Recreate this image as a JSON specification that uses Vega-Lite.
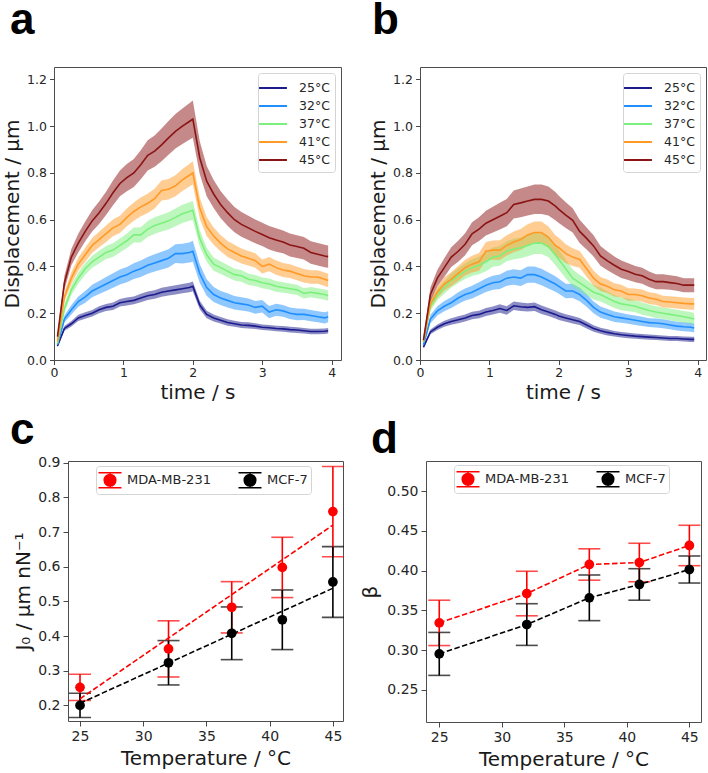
{
"$schema": "https://vega.github.io/schema/vega-lite/v6.json",
"background": "white",
"padding": {"left": 2, "top": -2, "right": 0, "bottom": 0},
"spacing": 5,
"resolve": {"scale": {"color": "independent"}, "legend": {"color": "independent"}},
"config": {
  "view": {"stroke": "#4d4d4d", "strokeWidth": 1},
  "font": "DejaVu Sans",
  "axis": {"domain": false, "grid": false, "ticks": true, "tickColor": "#333333", "tickWidth": 0.9, "labelFont": "DejaVu Sans", "labelColor": "#262626", "titleFont": "DejaVu Sans", "titleFontWeight": "normal", "titleColor": "#1a1a1a", "titleFontSize": 20, "labelFlush": false, "labelOverlap": false},
  "legend": {"labelFont": "DejaVu Sans", "labelColor": "#262626"}
},
"datasets": {
"a": [
{"T":"25°C","t":0.05,"m":0.06,"e":0.006},{"T":"25°C","t":0.15,"m":0.135,"e":0.01},{"T":"25°C","t":0.25,"m":0.155,"e":0.012},{"T":"25°C","t":0.35,"m":0.18,"e":0.013},{"T":"25°C","t":0.45,"m":0.19,"e":0.014},{"T":"25°C","t":0.55,"m":0.2,"e":0.014},{"T":"25°C","t":0.65,"m":0.215,"e":0.015},{"T":"25°C","t":0.75,"m":0.225,"e":0.015},{"T":"25°C","t":0.85,"m":0.23,"e":0.016},{"T":"25°C","t":0.95,"m":0.245,"e":0.016},{"T":"25°C","t":1.05,"m":0.25,"e":0.017},{"T":"25°C","t":1.15,"m":0.255,"e":0.017},{"T":"25°C","t":1.25,"m":0.265,"e":0.018},{"T":"25°C","t":1.35,"m":0.275,"e":0.018},{"T":"25°C","t":1.45,"m":0.28,"e":0.018},{"T":"25°C","t":1.55,"m":0.29,"e":0.019},{"T":"25°C","t":1.65,"m":0.295,"e":0.019},{"T":"25°C","t":1.75,"m":0.3,"e":0.02},{"T":"25°C","t":1.85,"m":0.305,"e":0.02},{"T":"25°C","t":1.95,"m":0.31,"e":0.02},{"T":"25°C","t":2.0,"m":0.315,"e":0.021},{"T":"25°C","t":2.1,"m":0.235,"e":0.018},{"T":"25°C","t":2.2,"m":0.195,"e":0.016},{"T":"25°C","t":2.3,"m":0.18,"e":0.015},{"T":"25°C","t":2.4,"m":0.17,"e":0.014},{"T":"25°C","t":2.5,"m":0.16,"e":0.014},{"T":"25°C","t":2.6,"m":0.155,"e":0.013},{"T":"25°C","t":2.7,"m":0.15,"e":0.013},{"T":"25°C","t":2.8,"m":0.148,"e":0.013},{"T":"25°C","t":2.9,"m":0.145,"e":0.012},{"T":"25°C","t":3.0,"m":0.14,"e":0.012},{"T":"25°C","t":3.1,"m":0.138,"e":0.012},{"T":"25°C","t":3.2,"m":0.135,"e":0.012},{"T":"25°C","t":3.3,"m":0.133,"e":0.012},{"T":"25°C","t":3.4,"m":0.13,"e":0.012},{"T":"25°C","t":3.5,"m":0.128,"e":0.012},{"T":"25°C","t":3.6,"m":0.125,"e":0.012},{"T":"25°C","t":3.7,"m":0.122,"e":0.012},{"T":"25°C","t":3.8,"m":0.122,"e":0.012},{"T":"25°C","t":3.9,"m":0.123,"e":0.012},{"T":"25°C","t":3.95,"m":0.125,"e":0.012},
{"T":"32°C","t":0.05,"m":0.065,"e":0.008},{"T":"32°C","t":0.15,"m":0.175,"e":0.015},{"T":"32°C","t":0.25,"m":0.215,"e":0.02},{"T":"32°C","t":0.35,"m":0.25,"e":0.022},{"T":"32°C","t":0.45,"m":0.27,"e":0.025},{"T":"32°C","t":0.55,"m":0.295,"e":0.027},{"T":"32°C","t":0.65,"m":0.31,"e":0.028},{"T":"32°C","t":0.75,"m":0.325,"e":0.03},{"T":"32°C","t":0.85,"m":0.34,"e":0.031},{"T":"32°C","t":0.95,"m":0.355,"e":0.032},{"T":"32°C","t":1.05,"m":0.365,"e":0.033},{"T":"32°C","t":1.15,"m":0.38,"e":0.034},{"T":"32°C","t":1.25,"m":0.39,"e":0.035},{"T":"32°C","t":1.35,"m":0.405,"e":0.036},{"T":"32°C","t":1.45,"m":0.415,"e":0.037},{"T":"32°C","t":1.55,"m":0.425,"e":0.038},{"T":"32°C","t":1.65,"m":0.435,"e":0.039},{"T":"32°C","t":1.75,"m":0.455,"e":0.04},{"T":"32°C","t":1.85,"m":0.455,"e":0.042},{"T":"32°C","t":1.95,"m":0.46,"e":0.043},{"T":"32°C","t":2.0,"m":0.465,"e":0.045},{"T":"32°C","t":2.1,"m":0.37,"e":0.04},{"T":"32°C","t":2.2,"m":0.31,"e":0.035},{"T":"32°C","t":2.3,"m":0.28,"e":0.032},{"T":"32°C","t":2.4,"m":0.265,"e":0.03},{"T":"32°C","t":2.5,"m":0.255,"e":0.03},{"T":"32°C","t":2.6,"m":0.245,"e":0.029},{"T":"32°C","t":2.7,"m":0.24,"e":0.028},{"T":"32°C","t":2.8,"m":0.235,"e":0.028},{"T":"32°C","t":2.9,"m":0.225,"e":0.027},{"T":"32°C","t":3.0,"m":0.23,"e":0.027},{"T":"32°C","t":3.1,"m":0.205,"e":0.026},{"T":"32°C","t":3.2,"m":0.215,"e":0.026},{"T":"32°C","t":3.3,"m":0.21,"e":0.025},{"T":"32°C","t":3.4,"m":0.2,"e":0.025},{"T":"32°C","t":3.5,"m":0.195,"e":0.025},{"T":"32°C","t":3.6,"m":0.195,"e":0.024},{"T":"32°C","t":3.7,"m":0.19,"e":0.024},{"T":"32°C","t":3.8,"m":0.185,"e":0.024},{"T":"32°C","t":3.9,"m":0.18,"e":0.024},{"T":"32°C","t":3.95,"m":0.185,"e":0.024},
{"T":"37°C","t":0.05,"m":0.07,"e":0.008},{"T":"37°C","t":0.15,"m":0.22,"e":0.018},{"T":"37°C","t":0.25,"m":0.3,"e":0.022},{"T":"37°C","t":0.35,"m":0.35,"e":0.024},{"T":"37°C","t":0.45,"m":0.39,"e":0.025},{"T":"37°C","t":0.55,"m":0.42,"e":0.026},{"T":"37°C","t":0.65,"m":0.44,"e":0.027},{"T":"37°C","t":0.75,"m":0.46,"e":0.028},{"T":"37°C","t":0.85,"m":0.47,"e":0.029},{"T":"37°C","t":0.95,"m":0.49,"e":0.03},{"T":"37°C","t":1.05,"m":0.51,"e":0.031},{"T":"37°C","t":1.15,"m":0.535,"e":0.032},{"T":"37°C","t":1.25,"m":0.535,"e":0.033},{"T":"37°C","t":1.35,"m":0.56,"e":0.034},{"T":"37°C","t":1.45,"m":0.575,"e":0.035},{"T":"37°C","t":1.55,"m":0.585,"e":0.036},{"T":"37°C","t":1.65,"m":0.595,"e":0.037},{"T":"37°C","t":1.75,"m":0.61,"e":0.038},{"T":"37°C","t":1.85,"m":0.625,"e":0.039},{"T":"37°C","t":1.95,"m":0.635,"e":0.04},{"T":"37°C","t":2.0,"m":0.64,"e":0.04},{"T":"37°C","t":2.1,"m":0.52,"e":0.035},{"T":"37°C","t":2.2,"m":0.45,"e":0.03},{"T":"37°C","t":2.3,"m":0.41,"e":0.028},{"T":"37°C","t":2.4,"m":0.395,"e":0.027},{"T":"37°C","t":2.5,"m":0.38,"e":0.026},{"T":"37°C","t":2.6,"m":0.365,"e":0.025},{"T":"37°C","t":2.7,"m":0.36,"e":0.025},{"T":"37°C","t":2.8,"m":0.345,"e":0.024},{"T":"37°C","t":2.9,"m":0.34,"e":0.024},{"T":"37°C","t":3.0,"m":0.33,"e":0.023},{"T":"37°C","t":3.1,"m":0.325,"e":0.023},{"T":"37°C","t":3.2,"m":0.315,"e":0.023},{"T":"37°C","t":3.3,"m":0.31,"e":0.022},{"T":"37°C","t":3.4,"m":0.305,"e":0.022},{"T":"37°C","t":3.5,"m":0.3,"e":0.022},{"T":"37°C","t":3.6,"m":0.285,"e":0.022},{"T":"37°C","t":3.7,"m":0.29,"e":0.022},{"T":"37°C","t":3.8,"m":0.285,"e":0.022},{"T":"37°C","t":3.9,"m":0.28,"e":0.022},{"T":"37°C","t":3.95,"m":0.275,"e":0.022},
{"T":"41°C","t":0.05,"m":0.08,"e":0.01},{"T":"41°C","t":0.15,"m":0.27,"e":0.02},{"T":"41°C","t":0.25,"m":0.35,"e":0.025},{"T":"41°C","t":0.35,"m":0.41,"e":0.028},{"T":"41°C","t":0.45,"m":0.45,"e":0.03},{"T":"41°C","t":0.55,"m":0.49,"e":0.032},{"T":"41°C","t":0.65,"m":0.515,"e":0.033},{"T":"41°C","t":0.75,"m":0.54,"e":0.035},{"T":"41°C","t":0.85,"m":0.565,"e":0.036},{"T":"41°C","t":0.95,"m":0.58,"e":0.037},{"T":"41°C","t":1.05,"m":0.61,"e":0.038},{"T":"41°C","t":1.15,"m":0.635,"e":0.039},{"T":"41°C","t":1.25,"m":0.655,"e":0.04},{"T":"41°C","t":1.35,"m":0.67,"e":0.041},{"T":"41°C","t":1.45,"m":0.69,"e":0.042},{"T":"41°C","t":1.55,"m":0.725,"e":0.043},{"T":"41°C","t":1.65,"m":0.73,"e":0.044},{"T":"41°C","t":1.75,"m":0.745,"e":0.045},{"T":"41°C","t":1.85,"m":0.77,"e":0.047},{"T":"41°C","t":1.95,"m":0.79,"e":0.048},{"T":"41°C","t":2.0,"m":0.8,"e":0.05},{"T":"41°C","t":2.1,"m":0.65,"e":0.045},{"T":"41°C","t":2.2,"m":0.57,"e":0.04},{"T":"41°C","t":2.3,"m":0.53,"e":0.037},{"T":"41°C","t":2.4,"m":0.5,"e":0.035},{"T":"41°C","t":2.5,"m":0.475,"e":0.034},{"T":"41°C","t":2.6,"m":0.46,"e":0.033},{"T":"41°C","t":2.7,"m":0.445,"e":0.032},{"T":"41°C","t":2.8,"m":0.435,"e":0.031},{"T":"41°C","t":2.9,"m":0.425,"e":0.031},{"T":"41°C","t":3.0,"m":0.4,"e":0.03},{"T":"41°C","t":3.1,"m":0.41,"e":0.03},{"T":"41°C","t":3.2,"m":0.395,"e":0.03},{"T":"41°C","t":3.3,"m":0.385,"e":0.03},{"T":"41°C","t":3.4,"m":0.38,"e":0.029},{"T":"41°C","t":3.5,"m":0.37,"e":0.029},{"T":"41°C","t":3.6,"m":0.36,"e":0.029},{"T":"41°C","t":3.7,"m":0.355,"e":0.029},{"T":"41°C","t":3.8,"m":0.355,"e":0.029},{"T":"41°C","t":3.9,"m":0.345,"e":0.029},{"T":"41°C","t":3.95,"m":0.34,"e":0.029},
{"T":"45°C","t":0.05,"m":0.1,"e":0.01},{"T":"45°C","t":0.15,"m":0.33,"e":0.03},{"T":"45°C","t":0.25,"m":0.44,"e":0.035},{"T":"45°C","t":0.35,"m":0.5,"e":0.04},{"T":"45°C","t":0.45,"m":0.55,"e":0.042},{"T":"45°C","t":0.55,"m":0.595,"e":0.045},{"T":"45°C","t":0.65,"m":0.63,"e":0.048},{"T":"45°C","t":0.75,"m":0.67,"e":0.05},{"T":"45°C","t":0.85,"m":0.715,"e":0.053},{"T":"45°C","t":0.95,"m":0.755,"e":0.055},{"T":"45°C","t":1.05,"m":0.78,"e":0.058},{"T":"45°C","t":1.15,"m":0.8,"e":0.06},{"T":"45°C","t":1.25,"m":0.835,"e":0.062},{"T":"45°C","t":1.35,"m":0.875,"e":0.065},{"T":"45°C","t":1.45,"m":0.893,"e":0.067},{"T":"45°C","t":1.55,"m":0.92,"e":0.07},{"T":"45°C","t":1.65,"m":0.95,"e":0.072},{"T":"45°C","t":1.75,"m":0.978,"e":0.074},{"T":"45°C","t":1.85,"m":1.0,"e":0.076},{"T":"45°C","t":1.95,"m":1.02,"e":0.078},{"T":"45°C","t":2.0,"m":1.03,"e":0.08},{"T":"45°C","t":2.1,"m":0.865,"e":0.07},{"T":"45°C","t":2.2,"m":0.765,"e":0.065},{"T":"45°C","t":2.3,"m":0.71,"e":0.06},{"T":"45°C","t":2.4,"m":0.665,"e":0.058},{"T":"45°C","t":2.5,"m":0.63,"e":0.056},{"T":"45°C","t":2.6,"m":0.6,"e":0.054},{"T":"45°C","t":2.7,"m":0.58,"e":0.053},{"T":"45°C","t":2.8,"m":0.565,"e":0.052},{"T":"45°C","t":2.9,"m":0.55,"e":0.051},{"T":"45°C","t":3.0,"m":0.537,"e":0.05},{"T":"45°C","t":3.1,"m":0.523,"e":0.05},{"T":"45°C","t":3.2,"m":0.513,"e":0.05},{"T":"45°C","t":3.3,"m":0.505,"e":0.049},{"T":"45°C","t":3.4,"m":0.492,"e":0.049},{"T":"45°C","t":3.5,"m":0.485,"e":0.049},{"T":"45°C","t":3.6,"m":0.478,"e":0.048},{"T":"45°C","t":3.7,"m":0.46,"e":0.048},{"T":"45°C","t":3.8,"m":0.452,"e":0.048},{"T":"45°C","t":3.9,"m":0.445,"e":0.048},{"T":"45°C","t":3.95,"m":0.442,"e":0.048}
],
"b": [
{"T":"25°C","t":0.05,"m":0.055,"e":0.006},{"T":"25°C","t":0.15,"m":0.12,"e":0.01},{"T":"25°C","t":0.25,"m":0.14,"e":0.012},{"T":"25°C","t":0.35,"m":0.155,"e":0.013},{"T":"25°C","t":0.45,"m":0.165,"e":0.014},{"T":"25°C","t":0.55,"m":0.172,"e":0.015},{"T":"25°C","t":0.65,"m":0.18,"e":0.015},{"T":"25°C","t":0.75,"m":0.19,"e":0.016},{"T":"25°C","t":0.85,"m":0.195,"e":0.016},{"T":"25°C","t":0.95,"m":0.205,"e":0.017},{"T":"25°C","t":1.05,"m":0.212,"e":0.017},{"T":"25°C","t":1.15,"m":0.22,"e":0.018},{"T":"25°C","t":1.25,"m":0.212,"e":0.018},{"T":"25°C","t":1.35,"m":0.232,"e":0.018},{"T":"25°C","t":1.45,"m":0.228,"e":0.018},{"T":"25°C","t":1.55,"m":0.225,"e":0.018},{"T":"25°C","t":1.65,"m":0.228,"e":0.018},{"T":"25°C","t":1.75,"m":0.215,"e":0.018},{"T":"25°C","t":1.85,"m":0.205,"e":0.017},{"T":"25°C","t":1.95,"m":0.195,"e":0.017},{"T":"25°C","t":2.0,"m":0.188,"e":0.017},{"T":"25°C","t":2.1,"m":0.18,"e":0.016},{"T":"25°C","t":2.2,"m":0.172,"e":0.016},{"T":"25°C","t":2.3,"m":0.165,"e":0.015},{"T":"25°C","t":2.4,"m":0.15,"e":0.015},{"T":"25°C","t":2.5,"m":0.135,"e":0.014},{"T":"25°C","t":2.6,"m":0.125,"e":0.013},{"T":"25°C","t":2.7,"m":0.118,"e":0.013},{"T":"25°C","t":2.8,"m":0.112,"e":0.012},{"T":"25°C","t":2.9,"m":0.108,"e":0.012},{"T":"25°C","t":3.0,"m":0.105,"e":0.012},{"T":"25°C","t":3.1,"m":0.102,"e":0.011},{"T":"25°C","t":3.2,"m":0.1,"e":0.011},{"T":"25°C","t":3.3,"m":0.098,"e":0.011},{"T":"25°C","t":3.4,"m":0.096,"e":0.011},{"T":"25°C","t":3.5,"m":0.094,"e":0.011},{"T":"25°C","t":3.6,"m":0.092,"e":0.011},{"T":"25°C","t":3.7,"m":0.092,"e":0.011},{"T":"25°C","t":3.8,"m":0.09,"e":0.011},{"T":"25°C","t":3.9,"m":0.088,"e":0.011},{"T":"25°C","t":3.95,"m":0.088,"e":0.011},
{"T":"32°C","t":0.05,"m":0.065,"e":0.008},{"T":"32°C","t":0.15,"m":0.175,"e":0.018},{"T":"32°C","t":0.25,"m":0.21,"e":0.02},{"T":"32°C","t":0.35,"m":0.23,"e":0.022},{"T":"32°C","t":0.45,"m":0.245,"e":0.023},{"T":"32°C","t":0.55,"m":0.265,"e":0.025},{"T":"32°C","t":0.65,"m":0.28,"e":0.026},{"T":"32°C","t":0.75,"m":0.29,"e":0.027},{"T":"32°C","t":0.85,"m":0.305,"e":0.028},{"T":"32°C","t":0.95,"m":0.32,"e":0.029},{"T":"32°C","t":1.05,"m":0.33,"e":0.03},{"T":"32°C","t":1.15,"m":0.335,"e":0.031},{"T":"32°C","t":1.25,"m":0.35,"e":0.032},{"T":"32°C","t":1.35,"m":0.355,"e":0.033},{"T":"32°C","t":1.45,"m":0.35,"e":0.034},{"T":"32°C","t":1.55,"m":0.365,"e":0.035},{"T":"32°C","t":1.65,"m":0.365,"e":0.035},{"T":"32°C","t":1.75,"m":0.355,"e":0.035},{"T":"32°C","t":1.85,"m":0.34,"e":0.034},{"T":"32°C","t":1.95,"m":0.325,"e":0.033},{"T":"32°C","t":2.0,"m":0.315,"e":0.032},{"T":"32°C","t":2.1,"m":0.295,"e":0.031},{"T":"32°C","t":2.2,"m":0.295,"e":0.03},{"T":"32°C","t":2.3,"m":0.28,"e":0.029},{"T":"32°C","t":2.4,"m":0.255,"e":0.027},{"T":"32°C","t":2.5,"m":0.225,"e":0.025},{"T":"32°C","t":2.6,"m":0.205,"e":0.024},{"T":"32°C","t":2.7,"m":0.195,"e":0.023},{"T":"32°C","t":2.8,"m":0.185,"e":0.022},{"T":"32°C","t":2.9,"m":0.18,"e":0.021},{"T":"32°C","t":3.0,"m":0.175,"e":0.02},{"T":"32°C","t":3.1,"m":0.17,"e":0.02},{"T":"32°C","t":3.2,"m":0.165,"e":0.02},{"T":"32°C","t":3.3,"m":0.16,"e":0.019},{"T":"32°C","t":3.4,"m":0.158,"e":0.019},{"T":"32°C","t":3.5,"m":0.155,"e":0.019},{"T":"32°C","t":3.6,"m":0.15,"e":0.019},{"T":"32°C","t":3.7,"m":0.145,"e":0.019},{"T":"32°C","t":3.8,"m":0.142,"e":0.019},{"T":"32°C","t":3.9,"m":0.14,"e":0.019},{"T":"32°C","t":3.95,"m":0.137,"e":0.019},
{"T":"37°C","t":0.05,"m":0.075,"e":0.01},{"T":"37°C","t":0.15,"m":0.23,"e":0.02},{"T":"37°C","t":0.25,"m":0.28,"e":0.025},{"T":"37°C","t":0.35,"m":0.31,"e":0.027},{"T":"37°C","t":0.45,"m":0.34,"e":0.03},{"T":"37°C","t":0.55,"m":0.36,"e":0.032},{"T":"37°C","t":0.65,"m":0.38,"e":0.034},{"T":"37°C","t":0.75,"m":0.395,"e":0.036},{"T":"37°C","t":0.85,"m":0.405,"e":0.038},{"T":"37°C","t":0.95,"m":0.42,"e":0.04},{"T":"37°C","t":1.05,"m":0.44,"e":0.041},{"T":"37°C","t":1.15,"m":0.445,"e":0.042},{"T":"37°C","t":1.25,"m":0.465,"e":0.043},{"T":"37°C","t":1.35,"m":0.475,"e":0.044},{"T":"37°C","t":1.45,"m":0.48,"e":0.045},{"T":"37°C","t":1.55,"m":0.49,"e":0.046},{"T":"37°C","t":1.65,"m":0.5,"e":0.047},{"T":"37°C","t":1.75,"m":0.5,"e":0.047},{"T":"37°C","t":1.85,"m":0.485,"e":0.046},{"T":"37°C","t":1.95,"m":0.45,"e":0.044},{"T":"37°C","t":2.0,"m":0.43,"e":0.043},{"T":"37°C","t":2.1,"m":0.39,"e":0.04},{"T":"37°C","t":2.2,"m":0.35,"e":0.037},{"T":"37°C","t":2.3,"m":0.33,"e":0.035},{"T":"37°C","t":2.4,"m":0.31,"e":0.033},{"T":"37°C","t":2.5,"m":0.29,"e":0.031},{"T":"37°C","t":2.6,"m":0.28,"e":0.03},{"T":"37°C","t":2.7,"m":0.265,"e":0.029},{"T":"37°C","t":2.8,"m":0.25,"e":0.028},{"T":"37°C","t":2.9,"m":0.24,"e":0.027},{"T":"37°C","t":3.0,"m":0.235,"e":0.027},{"T":"37°C","t":3.1,"m":0.23,"e":0.026},{"T":"37°C","t":3.2,"m":0.22,"e":0.026},{"T":"37°C","t":3.3,"m":0.212,"e":0.025},{"T":"37°C","t":3.4,"m":0.205,"e":0.025},{"T":"37°C","t":3.5,"m":0.2,"e":0.025},{"T":"37°C","t":3.6,"m":0.195,"e":0.025},{"T":"37°C","t":3.7,"m":0.19,"e":0.025},{"T":"37°C","t":3.8,"m":0.185,"e":0.025},{"T":"37°C","t":3.9,"m":0.18,"e":0.025},{"T":"37°C","t":3.95,"m":0.175,"e":0.025},
{"T":"41°C","t":0.05,"m":0.08,"e":0.01},{"T":"41°C","t":0.15,"m":0.24,"e":0.02},{"T":"41°C","t":0.25,"m":0.29,"e":0.025},{"T":"41°C","t":0.35,"m":0.325,"e":0.028},{"T":"41°C","t":0.45,"m":0.345,"e":0.03},{"T":"41°C","t":0.55,"m":0.37,"e":0.032},{"T":"41°C","t":0.65,"m":0.395,"e":0.034},{"T":"41°C","t":0.75,"m":0.41,"e":0.036},{"T":"41°C","t":0.85,"m":0.42,"e":0.038},{"T":"41°C","t":0.95,"m":0.465,"e":0.04},{"T":"41°C","t":1.05,"m":0.47,"e":0.041},{"T":"41°C","t":1.15,"m":0.47,"e":0.042},{"T":"41°C","t":1.25,"m":0.49,"e":0.043},{"T":"41°C","t":1.35,"m":0.505,"e":0.044},{"T":"41°C","t":1.45,"m":0.515,"e":0.045},{"T":"41°C","t":1.55,"m":0.535,"e":0.046},{"T":"41°C","t":1.65,"m":0.545,"e":0.047},{"T":"41°C","t":1.75,"m":0.545,"e":0.047},{"T":"41°C","t":1.85,"m":0.525,"e":0.046},{"T":"41°C","t":1.95,"m":0.49,"e":0.044},{"T":"41°C","t":2.0,"m":0.48,"e":0.043},{"T":"41°C","t":2.1,"m":0.455,"e":0.04},{"T":"41°C","t":2.2,"m":0.44,"e":0.038},{"T":"41°C","t":2.3,"m":0.43,"e":0.036},{"T":"41°C","t":2.4,"m":0.39,"e":0.034},{"T":"41°C","t":2.5,"m":0.35,"e":0.032},{"T":"41°C","t":2.6,"m":0.325,"e":0.03},{"T":"41°C","t":2.7,"m":0.315,"e":0.029},{"T":"41°C","t":2.8,"m":0.3,"e":0.028},{"T":"41°C","t":2.9,"m":0.295,"e":0.027},{"T":"41°C","t":3.0,"m":0.28,"e":0.027},{"T":"41°C","t":3.1,"m":0.28,"e":0.026},{"T":"41°C","t":3.2,"m":0.275,"e":0.026},{"T":"41°C","t":3.3,"m":0.265,"e":0.025},{"T":"41°C","t":3.4,"m":0.26,"e":0.025},{"T":"41°C","t":3.5,"m":0.25,"e":0.025},{"T":"41°C","t":3.6,"m":0.248,"e":0.025},{"T":"41°C","t":3.7,"m":0.245,"e":0.025},{"T":"41°C","t":3.8,"m":0.242,"e":0.025},{"T":"41°C","t":3.9,"m":0.24,"e":0.025},{"T":"41°C","t":3.95,"m":0.24,"e":0.025},
{"T":"45°C","t":0.05,"m":0.085,"e":0.01},{"T":"45°C","t":0.15,"m":0.28,"e":0.03},{"T":"45°C","t":0.25,"m":0.35,"e":0.035},{"T":"45°C","t":0.35,"m":0.395,"e":0.04},{"T":"45°C","t":0.45,"m":0.44,"e":0.042},{"T":"45°C","t":0.55,"m":0.465,"e":0.045},{"T":"45°C","t":0.65,"m":0.495,"e":0.047},{"T":"45°C","t":0.75,"m":0.54,"e":0.049},{"T":"45°C","t":0.85,"m":0.56,"e":0.051},{"T":"45°C","t":0.95,"m":0.585,"e":0.053},{"T":"45°C","t":1.05,"m":0.6,"e":0.055},{"T":"45°C","t":1.15,"m":0.615,"e":0.057},{"T":"45°C","t":1.25,"m":0.63,"e":0.058},{"T":"45°C","t":1.35,"m":0.665,"e":0.06},{"T":"45°C","t":1.45,"m":0.672,"e":0.061},{"T":"45°C","t":1.55,"m":0.68,"e":0.062},{"T":"45°C","t":1.65,"m":0.687,"e":0.063},{"T":"45°C","t":1.75,"m":0.687,"e":0.063},{"T":"45°C","t":1.85,"m":0.68,"e":0.062},{"T":"45°C","t":1.95,"m":0.658,"e":0.06},{"T":"45°C","t":2.0,"m":0.644,"e":0.058},{"T":"45°C","t":2.1,"m":0.62,"e":0.055},{"T":"45°C","t":2.2,"m":0.597,"e":0.052},{"T":"45°C","t":2.3,"m":0.55,"e":0.05},{"T":"45°C","t":2.4,"m":0.52,"e":0.047},{"T":"45°C","t":2.5,"m":0.488,"e":0.045},{"T":"45°C","t":2.6,"m":0.445,"e":0.042},{"T":"45°C","t":2.7,"m":0.424,"e":0.04},{"T":"45°C","t":2.8,"m":0.405,"e":0.038},{"T":"45°C","t":2.9,"m":0.388,"e":0.037},{"T":"45°C","t":3.0,"m":0.378,"e":0.036},{"T":"45°C","t":3.1,"m":0.367,"e":0.035},{"T":"45°C","t":3.2,"m":0.36,"e":0.034},{"T":"45°C","t":3.3,"m":0.345,"e":0.033},{"T":"45°C","t":3.4,"m":0.335,"e":0.032},{"T":"45°C","t":3.5,"m":0.335,"e":0.032},{"T":"45°C","t":3.6,"m":0.331,"e":0.031},{"T":"45°C","t":3.7,"m":0.327,"e":0.031},{"T":"45°C","t":3.8,"m":0.32,"e":0.03},{"T":"45°C","t":3.9,"m":0.32,"e":0.03},{"T":"45°C","t":3.95,"m":0.32,"e":0.03}
],
"c": [
{"cell":"MDA-MB-231","temp":25,"m":0.252,"e":0.038},{"cell":"MDA-MB-231","temp":32,"m":0.363,"e":0.081},{"cell":"MDA-MB-231","temp":37,"m":0.483,"e":0.074},{"cell":"MDA-MB-231","temp":41,"m":0.598,"e":0.087},{"cell":"MDA-MB-231","temp":45,"m":0.759,"e":0.13},
{"cell":"MCF-7","temp":25,"m":0.2,"e":0.035},{"cell":"MCF-7","temp":32,"m":0.323,"e":0.064},{"cell":"MCF-7","temp":37,"m":0.408,"e":0.076},{"cell":"MCF-7","temp":41,"m":0.447,"e":0.086},{"cell":"MCF-7","temp":45,"m":0.556,"e":0.102}
],
"cfit": [
{"cell":"MDA-MB-231","temp":25,"m":0.219},{"cell":"MDA-MB-231","temp":45,"m":0.72},
{"cell":"MCF-7","temp":25,"m":0.206},{"cell":"MCF-7","temp":45,"m":0.538}
],
"d": [
{"cell":"MDA-MB-231","temp":25,"m":0.3343,"e":0.0285},{"cell":"MDA-MB-231","temp":32,"m":0.3712,"e":0.028},{"cell":"MDA-MB-231","temp":37,"m":0.4077,"e":0.0197},{"cell":"MDA-MB-231","temp":41,"m":0.4102,"e":0.0242},{"cell":"MDA-MB-231","temp":45,"m":0.4316,"e":0.0254},
{"cell":"MCF-7","temp":25,"m":0.2953,"e":0.027},{"cell":"MCF-7","temp":32,"m":0.3322,"e":0.0262},{"cell":"MCF-7","temp":37,"m":0.3658,"e":0.0287},{"cell":"MCF-7","temp":41,"m":0.3826,"e":0.0198},{"cell":"MCF-7","temp":45,"m":0.4014,"e":0.017}
]
},
"vconcat": [
{
"hconcat": [
{
"width": 287, "height": 293,
"data": {"name": "a"},
"title": {"text": "a", "anchor": "start", "frame": "group", "fontSize": 44, "font": "Liberation Sans", "fontWeight": "bold", "color": "#000000", "dx": -44, "offset": -11, "baseline": "alphabetic"},
"encoding": {
  "x": {"field": "t", "type": "quantitative", "scale": {"domain": [0, 4.135], "nice": false, "zero": false}, "axis": {"values": [0,1,2,3,4], "format": "d", "title": "time / s", "labelFontSize": 12.5, "tickSize": 4.5, "labelPadding": 2, "titlePadding": 3}},
  "y": {"field": "m", "type": "quantitative", "scale": {"domain": [0, 1.253], "nice": false, "zero": false}, "axis": {"values": [0,0.2,0.4,0.6,0.8,1.0,1.2], "format": ".1f", "title": "Displacement / µm", "labelFontSize": 12.5, "tickSize": 4.5, "labelPadding": 3, "titlePadding": 4}},
  "color": {"field": "T", "type": "nominal", "scale": {"domain": ["25°C","32°C","37°C","41°C","45°C"], "range": ["#1c1c8e","#1f8fff","#7cf07c","#ff9a26","#8b1414"]}}
},
"layer": [
  {"mark": {"type": "errorband", "opacity": 0.5, "band": {"opacity": 0.5}}, "encoding": {"yError": {"field": "e"}}},
  {"mark": {"type": "line", "strokeWidth": 1.6}, "encoding": {"color": {"field": "T", "type": "nominal", "scale": {"domain": ["25°C","32°C","37°C","41°C","45°C"], "range": ["#1c1c8e","#1f8fff","#7cf07c","#ff9a26","#8b1414"]}, "legend": {"orient": "top-right", "offset": 6, "title": null, "symbolType": "M-1.55,0H1.55", "symbolSize": 324, "labelFontSize": 12.5, "labelOffset": 16, "padding": 5, "rowPadding": 1, "fillColor": "white", "strokeColor": "#d4d4d4", "cornerRadius": 3, "encode": {"symbols": {"update": {"fill": {"value": "transparent"}, "stroke": {"signal": "datum.value === '25°C' ? '#1c1c8e' : datum.value === '32°C' ? '#1f8fff' : datum.value === '37°C' ? '#7cf07c' : datum.value === '41°C' ? '#ff9a26' : '#8b1414'"}, "strokeWidth": {"value": 2}, "opacity": {"value": 1}, "strokeOpacity": {"value": 1}}}}}}}}
]
},
{
"width": 286, "height": 293,
"data": {"name": "b"},
"title": {"text": "b", "anchor": "start", "frame": "group", "fontSize": 44, "font": "Liberation Sans", "fontWeight": "bold", "color": "#000000", "dx": -48, "offset": -11, "baseline": "alphabetic"},
"encoding": {
  "x": {"field": "t", "type": "quantitative", "scale": {"domain": [0, 4.12], "nice": false, "zero": false}, "axis": {"values": [0,1,2,3,4], "format": "d", "title": "time / s", "labelFontSize": 12.5, "tickSize": 4.5, "labelPadding": 2, "titlePadding": 3}},
  "y": {"field": "m", "type": "quantitative", "scale": {"domain": [0, 1.253], "nice": false, "zero": false}, "axis": {"values": [0,0.2,0.4,0.6,0.8,1.0,1.2], "format": ".1f", "title": "Displacement / µm", "labelFontSize": 12.5, "tickSize": 4.5, "labelPadding": 3, "titlePadding": 4}},
  "color": {"field": "T", "type": "nominal", "scale": {"domain": ["25°C","32°C","37°C","41°C","45°C"], "range": ["#1c1c8e","#1f8fff","#7cf07c","#ff9a26","#8b1414"]}}
},
"layer": [
  {"mark": {"type": "errorband", "opacity": 0.5, "band": {"opacity": 0.5}}, "encoding": {"yError": {"field": "e"}}},
  {"mark": {"type": "line", "strokeWidth": 1.6}, "encoding": {"color": {"field": "T", "type": "nominal", "scale": {"domain": ["25°C","32°C","37°C","41°C","45°C"], "range": ["#1c1c8e","#1f8fff","#7cf07c","#ff9a26","#8b1414"]}, "legend": {"orient": "top-right", "offset": 6, "title": null, "symbolType": "M-1.55,0H1.55", "symbolSize": 324, "labelFontSize": 12.5, "labelOffset": 16, "padding": 5, "rowPadding": 1, "fillColor": "white", "strokeColor": "#d4d4d4", "cornerRadius": 3, "encode": {"symbols": {"update": {"fill": {"value": "transparent"}, "stroke": {"signal": "datum.value === '25°C' ? '#1c1c8e' : datum.value === '32°C' ? '#1f8fff' : datum.value === '37°C' ? '#7cf07c' : datum.value === '41°C' ? '#ff9a26' : '#8b1414'"}, "strokeWidth": {"value": 2}, "opacity": {"value": 1}, "strokeOpacity": {"value": 1}}}}}}}}
]
}
],
"spacing": 79,
"bounds": "flush",
"resolve": {"scale": {"color": "independent"}, "legend": {"color": "independent"}}
},
{
"hconcat": [
{
"width": 14, "height": 10,
"data": {"values": [{"k": 1}]},
"view": {"stroke": null},
"mark": {"type": "point", "opacity": 0},
"encoding": {}
},
{
"hconcat": [
{
"width": 275, "height": 260,
"title": {"text": "c", "anchor": "start", "frame": "group", "fontSize": 44, "font": "Liberation Sans", "fontWeight": "bold", "color": "#000000", "dx": -58, "offset": -32, "baseline": "alphabetic"},
"encoding": {
  "x": {"field": "temp", "type": "quantitative", "scale": {"domain": [24.05, 45.8], "nice": false, "zero": false}, "axis": {"values": [25,30,35,40,45], "title": "Temperature / °C", "labelFontSize": 14, "tickSize": 5, "labelPadding": 3, "titlePadding": 5}},
  "y": {"field": "m", "type": "quantitative", "scale": {"domain": [0.155, 0.905], "nice": false, "zero": false}, "axis": {"values": [0.2,0.3,0.4,0.5,0.6,0.7,0.8,0.9], "format": ".1f", "title": "J₀ / µm nN⁻¹", "labelFontSize": 14, "tickSize": 5, "labelPadding": 3, "titlePadding": 4}},
  "color": {"field": "cell", "type": "nominal", "scale": {"domain": ["MDA-MB-231","MCF-7"], "range": ["#ff0000","#000000"]}}
},
"layer": [
  {"data": {"name": "c"}, "mark": {"type": "errorbar", "ticks": {"size": 22, "thickness": 1.6}, "thickness": 1.6}, "encoding": {"yError": {"field": "e"}}},
  {"data": {"name": "c"}, "mark": {"type": "point", "filled": true, "size": 95, "opacity": 1}, "encoding": {"color": {"field": "cell", "type": "nominal", "scale": {"domain": ["MDA-MB-231","MCF-7"], "range": ["#ff0000","#000000"]}, "legend": {"orient": "none", "legendX": 28, "legendY": 5, "direction": "horizontal", "columns": 2, "title": null, "symbolType": "M-1.15,-0.75H1.15M-1.15,0.75H1.15M0,-0.75V0.75M0.58,0A0.58,0.58,0,1,1,-0.58,0A0.58,0.58,0,1,1,0.58,0Z", "symbolSize": 400, "labelFontSize": 13, "labelOffset": 6, "columnPadding": 24, "padding": 3, "fillColor": "white", "strokeColor": "#d4d4d4", "cornerRadius": 3, "symbolOpacity": 1, "encode": {"symbols": {"update": {"fill": {"signal": "datum.value === 'MCF-7' ? '#000000' : '#ff0000'"}, "stroke": {"signal": "datum.value === 'MCF-7' ? '#000000' : '#ff0000'"}, "strokeWidth": {"value": 1.5}, "opacity": {"value": 1}, "fillOpacity": {"value": 1}, "strokeOpacity": {"value": 1}}}}}}}},
  {"data": {"name": "cfit"}, "mark": {"type": "line", "strokeDash": [5.5, 2.5], "strokeWidth": 1.6}}
]
},
{
"width": 275, "height": 261,
"data": {"name": "d"},
"title": {"text": "d", "anchor": "start", "frame": "group", "fontSize": 44, "font": "Liberation Sans", "fontWeight": "bold", "color": "#000000", "dx": -55, "offset": -36, "baseline": "alphabetic"},
"encoding": {
  "x": {"field": "temp", "type": "quantitative", "scale": {"domain": [23.94, 45.93], "nice": false, "zero": false}, "axis": {"values": [25,30,35,40,45], "title": "Temperature / °C", "labelFontSize": 14, "tickSize": 5, "labelPadding": 3, "titlePadding": 5}},
  "y": {"field": "m", "type": "quantitative", "scale": {"domain": [0.2097, 0.5378], "nice": false, "zero": false}, "axis": {"values": [0.25,0.3,0.35,0.4,0.45,0.5], "format": ".2f", "title": "β", "labelFontSize": 14, "tickSize": 5, "labelPadding": 3, "titlePadding": 6}},
  "color": {"field": "cell", "type": "nominal", "scale": {"domain": ["MDA-MB-231","MCF-7"], "range": ["#ff0000","#000000"]}}
},
"layer": [
  {"mark": {"type": "errorbar", "ticks": {"size": 22, "thickness": 1.6}, "thickness": 1.6}, "encoding": {"yError": {"field": "e"}}},
  {"mark": {"type": "line", "strokeDash": [5.5, 2.5], "strokeWidth": 1.6}},
  {"mark": {"type": "point", "filled": true, "size": 95, "opacity": 1}, "encoding": {"color": {"field": "cell", "type": "nominal", "scale": {"domain": ["MDA-MB-231","MCF-7"], "range": ["#ff0000","#000000"]}, "legend": {"orient": "none", "legendX": 28, "legendY": 4, "direction": "horizontal", "columns": 2, "title": null, "symbolType": "M-1.15,-0.75H1.15M-1.15,0.75H1.15M0,-0.75V0.75M0.58,0A0.58,0.58,0,1,1,-0.58,0A0.58,0.58,0,1,1,0.58,0Z", "symbolSize": 400, "labelFontSize": 13, "labelOffset": 6, "columnPadding": 24, "padding": 3, "fillColor": "white", "strokeColor": "#d4d4d4", "cornerRadius": 3, "symbolOpacity": 1, "encode": {"symbols": {"update": {"fill": {"signal": "datum.value === 'MCF-7' ? '#000000' : '#ff0000'"}, "stroke": {"signal": "datum.value === 'MCF-7' ? '#000000' : '#ff0000'"}, "strokeWidth": {"value": 1.5}, "opacity": {"value": 1}, "fillOpacity": {"value": 1}, "strokeOpacity": {"value": 1}}}}}}}}
]
}
],
"spacing": 83,
"bounds": "flush",
"resolve": {"scale": {"color": "independent"}, "legend": {"color": "independent"}}
}
],
"spacing": 0,
"bounds": "flush",
"resolve": {"scale": {"color": "independent"}, "legend": {"color": "independent"}}
}
]
}
